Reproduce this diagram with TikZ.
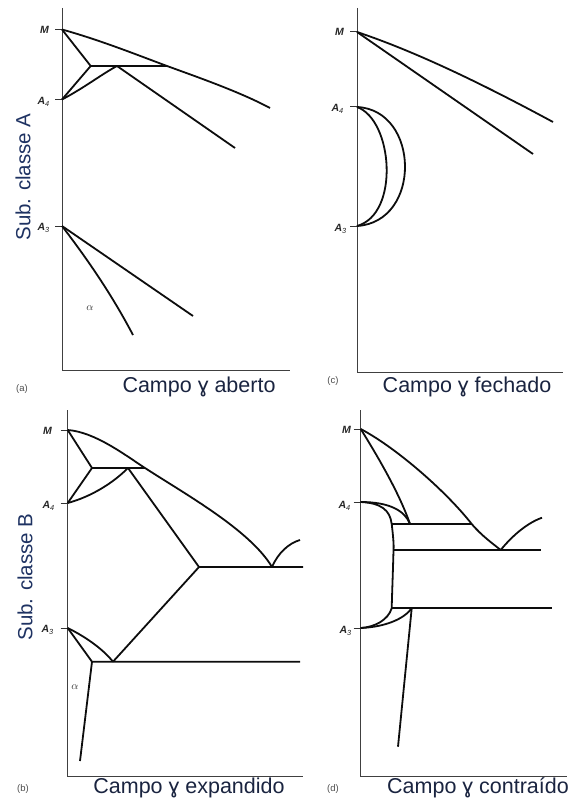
\documentclass[tikz,border=0pt]{standalone}
\usepackage{fontspec}
\setmainfont{Liberation Sans}
\setsansfont{Liberation Sans}
\definecolor{navy}{HTML}{1E3262}
\definecolor{darknavy}{HTML}{1A2440}
\begin{document}
\begin{tikzpicture}[x=1pt,y=-1pt,
  axis/.style={line width=1pt,draw=black!75},
  tick/.style={line width=1pt,draw=black!80},
  curve/.style={line width=1.8pt,draw=black!95,line join=round},
  ptlabel/.style={anchor=east,inner sep=0pt,font=\fontsize{10.5}{11}\selectfont\bfseries\itshape,text=black!85},
  panel/.style={inner sep=0pt,font=\fontsize{9.5}{10}\selectfont,text=black!70},
  campo/.style={inner sep=0pt,font=\fontsize{21.5}{23}\selectfont,text=darknavy},
  subclass/.style={inner sep=0pt,rotate=90,font=\fontsize{20.5}{22}\selectfont,text=navy},
  alpha/.style={inner sep=0pt,font=\fontsize{11}{11}\selectfont,text=black!80}]
\useasboundingbox (0,0) rectangle (575,805);

% ================= panel (a) =================
\coordinate (aTop) at (62,8);
\coordinate (aO) at (62,370);
\coordinate (aEnd) at (290,370);
\coordinate (aM) at (62,29.5);
\coordinate (aA4) at (62,99.5);
\coordinate (aA3) at (62,226);
\coordinate (aT1) at (90.7,66);
\coordinate (aT2) at (117,66);
\coordinate (aT3) at (167,66);
\coordinate (aE1) at (235,148);
\coordinate (aE2) at (270,108);
\coordinate (aL1) at (193,316);
\coordinate (aL2) at (133,335);
\draw[axis] (aTop) -- (aO) -- (aEnd);
\foreach \p in {aM,aA4,aA3} \draw[tick] ([xshift=-7pt]\p) -- (\p);
\node[ptlabel] (laM) at (49,30) {M};
\node[ptlabel] (laA4) at (50,102) {A$_{\mathit 4}$};
\node[ptlabel] (laA3) at (50,228) {A$_{\mathit 3}$};
\draw[curve] (aM) -- (aT1) -- (aA4);
\draw[curve] (aT1) -- (aT3);
\draw[curve] (aA4) .. controls (84,88) and (102,74) .. (aT2);
\draw[curve] (aT2) -- (aE1);
\draw[curve] (aM) .. controls (100,40) and (140,56) .. (aT3)
   .. controls (200,78) and (240,92) .. (aE2);
\draw[curve] (aA3) -- (aL1);
\draw[curve] (aA3) .. controls (88,260) and (112,295) .. (aL2);
\node[alpha] (aal) at (90,308) {$\alpha$};
\node[panel] (tagA) at (22,389) {(a)};
\node[campo] (campoA) at (199,387) {Campo ɣ aberto};
\node[subclass] (subA) at (23,177) {Sub. classe A};

% ================= panel (c) =================
\coordinate (cTop) at (357,8);
\coordinate (cO) at (357,372);
\coordinate (cEnd) at (563,372);
\coordinate (cM) at (357,32);
\coordinate (cA4) at (357,107);
\coordinate (cA3) at (357,226);
\coordinate (cE1) at (553,122);
\coordinate (cE2) at (533,154);
\draw[axis] (cTop) -- (cO) -- (cEnd);
\foreach \p in {cM,cA4,cA3} \draw[tick] ([xshift=-7pt]\p) -- (\p);
\node[ptlabel] (lcM) at (344,32) {M};
\node[ptlabel] (lcA4) at (344,109) {A$_{\mathit 4}$};
\node[ptlabel] (lcA3) at (347,229) {A$_{\mathit 3}$};
\draw[curve] (cM) .. controls (420,53) and (490,88) .. (cE1);
\draw[curve] (cM) -- (cE2);
\draw[curve] (cA4) .. controls (420,110) and (422,222) .. (cA3);
\draw[curve] (cA4) .. controls (393,120) and (400,214) .. (cA3);
\node[panel] (tagC) at (333,381) {(c)};
\node[campo] (campoC) at (467,387) {Campo ɣ fechado};

% ================= panel (b) =================
\coordinate (bTop) at (67.7,410);
\coordinate (bO) at (67.7,776);
\coordinate (bEnd) at (303,776);
\coordinate (bM) at (67.7,430);
\coordinate (bA4) at (67.7,503);
\coordinate (bA3) at (67.7,628);
\coordinate (bT1) at (92,468);
\coordinate (bT2) at (128,468);
\coordinate (bT3) at (145,468);
\coordinate (bP) at (199,567);
\coordinate (bQ) at (272,567);
\coordinate (bW) at (300,540);
\coordinate (bPe) at (303,567);
\coordinate (bR1) at (92,661.7);
\coordinate (bR2) at (113,661.7);
\coordinate (bRe) at (300,661.7);
\coordinate (bS) at (80,761);
\draw[axis] (bTop) -- (bO) -- (bEnd);
\foreach \p in {bM,bA4,bA3} \draw[tick] ([xshift=-7pt]\p) -- (\p);
\node[ptlabel] (lbM) at (52,431) {M};
\node[ptlabel] (lbA4) at (55,506) {A$_{\mathit 4}$};
\node[ptlabel] (lbA3) at (54,630) {A$_{\mathit 3}$};
\draw[curve] (bM) -- (bT1) -- (bA4);
\draw[curve] (bT1) -- (bT3);
\draw[curve] (bA4) .. controls (90,497) and (112,484) .. (bT2);
\draw[curve] (bT2) -- (bP) -- (bPe);
\draw[curve] (bM) .. controls (95,432) and (125,455) .. (bT3)
   .. controls (185,494) and (250,530) .. (bQ);
\draw[curve] (bQ) .. controls (278,553) and (289,543) .. (bW);
\draw[curve] (bA3) -- (bR1) -- (bRe);
\draw[curve] (bA3) .. controls (84,636) and (102,648) .. (bR2);
\draw[curve] (bR2) -- (bP);
\draw[curve] (bR1) -- (bS);
\node[alpha] (bal) at (75,687) {$\alpha$};
\node[panel] (tagB) at (23,789) {(b)};
\node[campo] (campoB) at (189,788) {Campo ɣ expandido};
\node[subclass] (subB) at (25,577) {Sub. classe B};

% ================= panel (d) =================
\coordinate (dTop) at (360.7,410);
\coordinate (dO) at (360.7,776);
\coordinate (dEnd) at (567,776);
\coordinate (dM) at (360.7,429);
\coordinate (dA4) at (360.7,502);
\coordinate (dA3) at (360.7,628);
\coordinate (dU0) at (391.7,524);
\coordinate (dU1) at (410,524);
\coordinate (dU2) at (471.7,524);
\coordinate (dV0) at (393.5,550);
\coordinate (dV) at (500.7,550);
\coordinate (dVe) at (540.7,550);
\coordinate (dW) at (542,517.7);
\coordinate (dX0) at (391.7,608.3);
\coordinate (dX) at (411.7,608.3);
\coordinate (dXe) at (552,608.3);
\coordinate (dY) at (398,746.7);
\draw[axis] (dTop) -- (dO) -- (dEnd);
\foreach \p in {dM,dA4,dA3} \draw[tick] ([xshift=-7pt]\p) -- (\p);
\node[ptlabel] (ldM) at (351,430) {M};
\node[ptlabel] (ldA4) at (351,506) {A$_{\mathit 4}$};
\node[ptlabel] (ldA3) at (352,631) {A$_{\mathit 3}$};
\draw[curve] (dM) .. controls (380,460) and (400,495) .. (dU1);
\draw[curve] (dM) .. controls (395,447) and (445,490) .. (dU2)
   .. controls (482,536) and (492,543) .. (dV);
\draw[curve] (dV) .. controls (512,536) and (527,523) .. (dW);
\draw[curve] (dA4) .. controls (390,502) and (405,511) .. (dU1);
\draw[curve] (dA4) .. controls (381,503) and (390,510) .. (dU0)
   .. controls (393,535) and (394,545) .. (dV0)
   .. controls (393,570) and (392,595) .. (dX0)
   .. controls (388,620) and (375,627) .. (dA3);
\draw[curve] (dU0) -- (dU2);
\draw[curve] (dV0) -- (dVe);
\draw[curve] (dX0) -- (dXe);
\draw[curve] (dA3) .. controls (385,627) and (404,619) .. (dX);
\draw[curve] (dX) -- (dY);
\node[panel] (tagD) at (333,789) {(d)};
\node[campo] (campoD) at (478,788) {Campo ɣ contraído};
\end{tikzpicture}
\end{document}
